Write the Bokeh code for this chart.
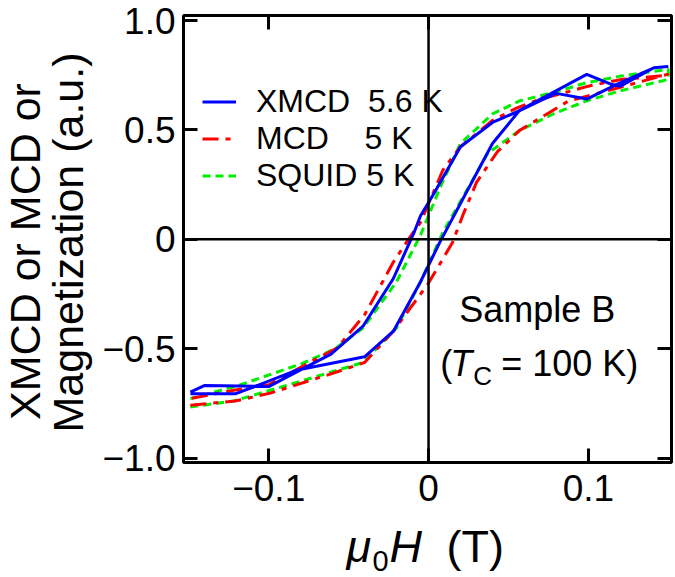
from math import pi
from bokeh.plotting import figure
from bokeh.layouts import row, column
from bokeh.models import (Range1d, LinearAxis, FixedTicker, Span, Label,
                          Legend, LegendItem)
from bokeh.embed import file_html
from bokeh.resources import INLINE

# ---------------- data ----------------
# XMCD 5.6 K (blue, solid)
xmcd_h_up = [-0.149, -0.121, -0.110, -0.082, -0.040, -0.022, -0.005, 0.007, 0.040, 0.057, 0.099, 0.114, 0.120, 0.141, 0.150]
xmcd_m_up = [-0.706, -0.706, -0.676, -0.597, -0.537, -0.420, -0.194, -0.014, 0.438, 0.590, 0.754, 0.709, 0.700, 0.784, 0.790]
xmcd_h_down = [0.150, 0.141, 0.118, 0.099, 0.080, 0.070, 0.057, 0.040, 0.020, 0.003, -0.005, -0.009, -0.022, -0.041, -0.061, -0.081, -0.100, -0.140, -0.149]
xmcd_m_down = [0.790, 0.784, 0.709, 0.641, 0.667, 0.634, 0.588, 0.534, 0.423, 0.205, 0.108, 0.032, -0.179, -0.397, -0.525, -0.600, -0.673, -0.668, -0.698]

# MCD 5 K (red, dash-dot)
mcd_h_up = [-0.149, -0.121, -0.099, -0.061, -0.040, -0.022, 0.000, 0.015, 0.022, 0.030, 0.043, 0.057, 0.087, 0.107, 0.120, 0.150]
mcd_m_up = [-0.758, -0.739, -0.703, -0.615, -0.563, -0.420, -0.200, -0.014, 0.120, 0.260, 0.400, 0.498, 0.630, 0.670, 0.695, 0.755]
mcd_h_down = [0.150, 0.120, 0.100, 0.085, 0.070, 0.055, 0.040, 0.020, 0.009, -0.005, -0.011, -0.022, -0.040, -0.057, -0.080, -0.100, -0.122, -0.149]
mcd_m_down = [0.750, 0.730, 0.700, 0.670, 0.641, 0.600, 0.543, 0.423, 0.317, 0.077, 0.017, -0.104, -0.345, -0.495, -0.585, -0.665, -0.690, -0.728]

# SQUID 5 K (green, dashed)
squid_h_up = [-0.149, -0.122, -0.082, -0.041, -0.020, -0.005, 0.009, 0.037, 0.057, 0.078, 0.099, 0.120, 0.150]
squid_m_up = [-0.766, -0.739, -0.653, -0.563, -0.405, -0.194, 0.032, 0.393, 0.498, 0.573, 0.633, 0.679, 0.731]
squid_h_down = [0.150, 0.120, 0.099, 0.078, 0.057, 0.040, 0.020, 0.008, -0.005, -0.020, -0.041, -0.059, -0.080, -0.119, -0.149]
squid_m_down = [0.777, 0.746, 0.716, 0.671, 0.633, 0.573, 0.438, 0.250, 0.020, -0.194, -0.405, -0.503, -0.570, -0.668, -0.728]

x_ticks = [-0.1, 0.0, 0.1]
x_tick_labels = ["\u22120.1", "0", "0.1"]
y_ticks = [-1.0, -0.5, 0.0, 0.5, 1.0]
y_tick_labels = ["\u22121.0", "\u22120.5", "0", "0.5", "1.0"]

legend_labels = ["XMCD\u00a0\u00a05.6 K", "MCD\u00a0\u00a0\u00a0\u00a05 K", "SQUID\u00a05 K"]
y_title_lines = ["XMCD or MCD or", "Magnetization (a.u.)"]

# ---------------- main figure ----------------
FONT = "Liberation Sans"
BLUE, RED, GREEN = "#0000ff", "#ff0000", "#00ee00"
BL, BR = 88, 4   # left / right borders of the main plot (frame: page x 183..671)

p = figure(width=580, height=520, output_backend="svg", toolbar_location=None,
           x_range=Range1d(-0.1533, 0.152), y_range=Range1d(-1.02, 1.023),
           min_border_left=BL, min_border_right=BR, min_border_top=15,
           min_border_bottom=58, background_fill_color="white",
           border_fill_color="white")
p.xgrid.visible = False
p.ygrid.visible = False
p.outline_line_color = "black"
p.outline_line_width = 3
p.outline_line_alpha = 1.0

def style_axis(ax, ticks, labels, show, standoff):
    ax.ticker = FixedTicker(ticks=ticks)
    ax.major_tick_in = 14
    ax.major_tick_out = 0
    ax.major_tick_line_width = 3
    ax.major_tick_line_color = "black"
    ax.minor_tick_line_color = None
    ax.axis_line_color = None
    ax.major_label_text_font = FONT
    ax.major_label_text_color = "black"
    if show:
        ax.major_label_text_font_size = "37px"
        ax.major_label_overrides = dict(zip(ticks, labels))
        ax.major_label_standoff = standoff
    else:
        ax.major_label_text_font_size = "0px"
        ax.major_label_overrides = {t: "" for t in ticks}
        ax.major_label_standoff = 0

style_axis(p.xaxis[0], x_ticks, x_tick_labels, True, 12)
style_axis(p.yaxis[0], y_ticks, y_tick_labels, True, 8)
ax_top = LinearAxis()
ax_right = LinearAxis()
style_axis(ax_top, x_ticks, x_tick_labels, False, 0)
style_axis(ax_right, y_ticks, y_tick_labels, False, 0)
p.add_layout(ax_top, "above")
p.add_layout(ax_right, "right")

p.add_layout(Span(location=0, dimension="height", line_color="black", line_width=2.5))
p.add_layout(Span(location=0, dimension="width", line_color="black", line_width=2.5))

r_sq = p.line(squid_h_up + squid_h_down, squid_m_up + squid_m_down,
              line_color=GREEN, line_width=3, line_dash="8 5")
r_mcd = p.line(mcd_h_up + mcd_h_down, mcd_m_up + mcd_m_down,
               line_color=RED, line_width=3, line_dash="16 7 5 7")
r_x = p.line(xmcd_h_up + xmcd_h_down, xmcd_m_up + xmcd_m_down,
             line_color=BLUE, line_width=3)

legend = Legend(items=[LegendItem(label=legend_labels[0], renderers=[r_x]),
                       LegendItem(label=legend_labels[1], renderers=[r_mcd]),
                       LegendItem(label=legend_labels[2], renderers=[r_sq])],
                location=(19, 268), label_text_font=FONT, label_text_font_size="32px",
                label_text_color="black",
                glyph_width=34, glyph_height=35, label_height=35, label_standoff=20,
                spacing=0, padding=0, margin=0, border_line_color=None,
                background_fill_alpha=0)
p.add_layout(legend)

# annotations inside the frame (labels are anchored at their vertical centre)
def note(x, y, text, size="36px", style="normal", align="left", dx=0):
    p.add_layout(Label(x=x, y=y, x_offset=dx, text=text, text_align=align,
                       text_baseline="middle", text_font=FONT,
                       text_font_style=style, text_font_size=size,
                       text_color="black"))

note(0.068, -0.320, "Sample B", align="center")
note(0.0073, -0.568, "(")
note(0.0073, -0.568, "T", style="italic", dx=10)
note(0.0073, -0.625, "C", size="26px", dx=33)
note(0.0073, -0.568, "= 100 K)", dx=61)

# ---------------- strip holding the y-axis title (data units = page pixels) -----
left = figure(width=95, height=577, output_backend="svg", toolbar_location=None,
              x_range=Range1d(0, 95), y_range=Range1d(577, 0),
              x_axis_type=None, y_axis_type=None, min_border=0,
              outline_line_color=None, background_fill_color="white",
              border_fill_color="white")
left.xgrid.visible = False
left.ygrid.visible = False
for cx, cy, txt in [(24, 251, y_title_lines[0]), (67, 242, y_title_lines[1])]:
    left.add_layout(Label(x=cx, y=cy, angle=pi / 2, text=txt,
                          text_align="center", text_baseline="middle",
                          text_font=FONT, text_font_size="43px", text_color="black"))

# ---------------- strip holding the x-axis title (data units = page pixels) -----
bottom = figure(width=580, height=57, output_backend="svg", toolbar_location=None,
                x_range=Range1d(95 + BL, 675 - BR), y_range=Range1d(577, 520),
                x_axis_type=None, y_axis_type=None,
                min_border_left=BL, min_border_right=BR, min_border_top=0,
                min_border_bottom=0,
                outline_line_color=None, background_fill_color="white",
                border_fill_color="white")
bottom.xgrid.visible = False
bottom.ygrid.visible = False
for bx, by, txt, size, style in [(346, 546, "\u03bc", "45px", "italic"),
                                 (372, 560, "0", "29px", "normal"),
                                 (389, 546, "H", "45px", "italic"),
                                 (446, 546, "(T)", "45px", "normal")]:
    bottom.add_layout(Label(x=bx, y=by, text=txt, text_baseline="middle",
                            text_font=FONT, text_font_style=style,
                            text_font_size=size, text_color="black"))

layout = row(left, column(p, bottom, spacing=0), spacing=0)

open("out.html", "w").write(file_html(layout, INLINE, title="plot"))
